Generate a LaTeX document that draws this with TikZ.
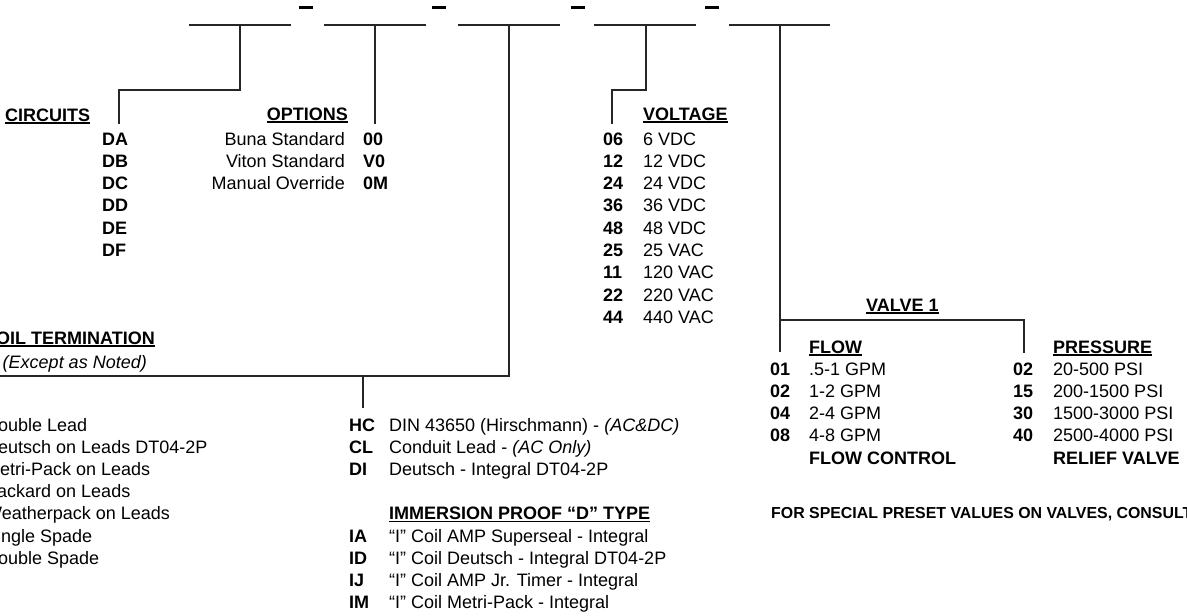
\documentclass[tikz,border=0pt]{standalone}
\usepackage{fontspec}
\setmainfont{Liberation Sans}
\newcommand\myul[1]{\setbox0\hbox{#1}\rlap{\rule[-2.6pt]{\wd0}{1.5pt}}\box0}
\tikzset{
  txt/.style={anchor=base west, inner sep=0pt, font={\fontsize{18}{22}\selectfont}},
  txtr/.style={txt, anchor=base east},
  cd/.style={txt, font={\fontsize{18}{22}\selectfont\bfseries}},
  hd/.style={cd},
  hdr/.style={cd, anchor=base east},
  it/.style={txt, font={\fontsize{18}{22}\selectfont\itshape}},
  note/.style={anchor=base west, inner sep=0pt, font={\fontsize{15.9}{18}\selectfont\bfseries}},
  conn/.style={line width=1.1pt, draw=black!85},
  blank/.style={line width=1.1pt, draw=black!85},
}
\begin{document}
\begin{tikzpicture}[x=1pt,y=-1pt]
\useasboundingbox (0,0) rectangle (1187,616);
\clip (0,0) rectangle (1187,616);

% blanks of the part number
\coordinate (b1a) at (189,25); \coordinate (b1b) at (291,25);
\coordinate (b2a) at (324,25); \coordinate (b2b) at (426,25);
\coordinate (b3a) at (458,25); \coordinate (b3b) at (560,25);
\coordinate (b4a) at (594,25); \coordinate (b4b) at (696,25);
\coordinate (b5a) at (729,25); \coordinate (b5b) at (830,25);
\foreach \i in {1,...,5} \draw[blank] (b\i a) -- (b\i b);
\foreach \x in {299,432,571,705} \fill (\x,5.6) rectangle +(14,3);

% CIRCUITS
\node[hd] (circ) at (5,121) {\myul{CIRCUITS}};
\foreach \c [count=\i from 0] in {DA,DB,DC,DD,DE,DF}
  \node[cd] (cir\c) at (102,145+22.3*\i) {\c};
\coordinate (c1a) at (240,25); \coordinate (c1b) at (119,124);
\draw[conn] (c1a) -- (240,90) -| (c1b);

% OPTIONS
\node[hdr] (opt) at (348,120) {\myul{OPTIONS}};
\foreach \d/\c [count=\i from 0] in {Buna Standard/00,Viton Standard/V0,Manual Override/0M}{
  \node[txtr] (optd\i) at (345,145+22.3*\i) {\d};
  \node[cd] (optc\i) at (363,145+22.3*\i) {\c};}
\coordinate (c2a) at (375,25); \coordinate (c2b) at (375,124);
\draw[conn] (c2a) -- (c2b);

% VOLTAGE
\node[hd] (volt) at (643,120) {\myul{VOLTAGE}};
\foreach \c/\d [count=\i from 0] in {06/6 VDC,12/12 VDC,24/24 VDC,36/36 VDC,48/48 VDC,25/25 VAC,11/120 VAC,22/220 VAC,44/440 VAC}{
  \node[cd] (vc\i) at (603,145+22.3*\i) {\c};
  \node[txt] (vd\i) at (643,145+22.3*\i) {\d};}
\coordinate (c4a) at (646,25); \coordinate (c4b) at (612,124);
\draw[conn] (c4a) -- (646,90) -| (c4b);

% COIL TERMINATION
\node[hdr] (coil) at (155,344) {\myul{COIL TERMINATION}};
\node[it, anchor=base east] (coiln) at (147,368) {(Except as Noted)};
\foreach \d [count=\i from 0] in {Double Lead,Deutsch on Leads DT04-2P,Metri-Pack on Leads,Packard on Leads,Weatherpack on Leads,Single Spade,Double Spade}
  \node[txt] (lt\i) at (-15,431+22.2*\i) {\d};
\coordinate (c3a) at (509,25); \coordinate (c3l) at (-5,376);
\coordinate (c3j) at (363,376); \coordinate (c3b) at (363,408);
\draw[conn] (c3a) -- (509,376) -- (c3l);
\draw[conn] (c3j) -- (c3b);
\node[cd] (hc) at (349,431) {HC};
\node[txt] (hct) at (389,431) {DIN 43650 (Hirschmann) - \textit{(AC\&DC)}};
\node[cd] (cl) at (349,453.2) {CL};
\node[txt] (clt) at (389,453.2) {Conduit Lead - \textit{(AC Only)}};
\node[cd] (di) at (349,475.4) {DI};
\node[txt] (dit) at (389,475.4) {Deutsch - Integral DT04-2P};
\node[hd] (imm) at (389,519.8) {\myul{IMMERSION PROOF “D” TYPE}};
\foreach \c/\d [count=\i from 0] in {IA/“I” Coil AMP Superseal - Integral,ID/“I” Coil Deutsch - Integral DT04-2P,IJ/“I” Coil AMP Jr. Timer - Integral,IM/“I” Coil Metri-Pack - Integral}{
  \node[cd] (ic\i) at (349,542+22.2*\i) {\c};
  \node[txt] (id\i) at (389,542+22.2*\i) {\d};}

% VALVE 1
\node[hd] (valve) at (866,311) {\myul{VALVE 1}};
\coordinate (c5a) at (780,25); \coordinate (c5b) at (780,352);
\coordinate (c5j) at (780,320); \coordinate (c5c) at (1024,353);
\draw[conn] (c5a) -- (c5b);
\draw[conn] (c5j) -| (c5c);
\node[hd] (flow) at (809,353) {\myul{FLOW}};
\foreach \c/\d [count=\i from 0] in {01/.5-1 GPM,02/1-2 GPM,04/2-4 GPM,08/4-8 GPM}{
  \node[cd] (fc\i) at (770,375+22.2*\i) {\c};
  \node[txt] (fd\i) at (809,375+22.2*\i) {\d};}
\node[cd] (fctl) at (809,464) {FLOW CONTROL};
\node[hd] (pres) at (1053,353) {\myul{PRESSURE}};
\foreach \c/\d [count=\i from 0] in {02/20-500 PSI,15/200-1500 PSI,30/1500-3000 PSI,40/2500-4000 PSI}{
  \node[cd] (pc\i) at (1013,375+22.2*\i) {\c};
  \node[txt] (pd\i) at (1053,375+22.2*\i) {\d};}
\node[cd] (relief) at (1053,464) {RELIEF VALVE};
\node[note] (spec) at (771,518) {FOR SPECIAL PRESET VALUES ON VALVES, CONSULT FACTORY};
\end{tikzpicture}
\end{document}
